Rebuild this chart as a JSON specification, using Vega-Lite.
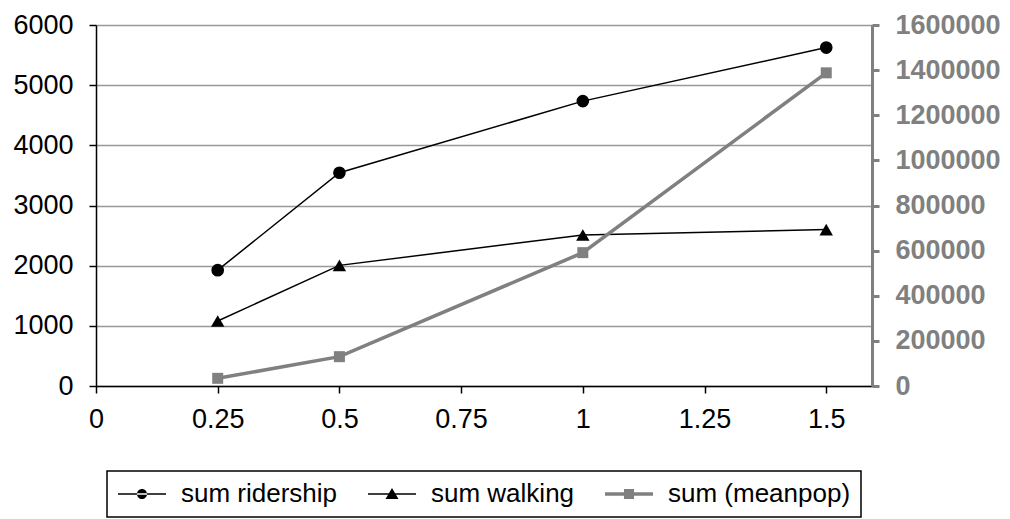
{
  "$schema": "https://vega.github.io/schema/vega-lite/v6.json",
  "width": 776,
  "height": 361,
  "autosize": {"type": "none"},
  "padding": {"left": 96, "top": 25, "right": 138, "bottom": 133},
  "background": "white",
  "config": {
    "font": "Liberation Sans",
    "view": {"stroke": null},
    "axis": {"labelFont": "Liberation Sans", "labelFontSize": 27, "labelColor": "black", "title": null, "tickSize": 7}
  },
  "data": {
    "values": [
      {"x": 0.25, "series": "sum ridership", "value": 1925},
      {"x": 0.5, "series": "sum ridership", "value": 3545},
      {"x": 1, "series": "sum ridership", "value": 4735},
      {"x": 1.5, "series": "sum ridership", "value": 5625},
      {"x": 0.25, "series": "sum walking", "value": 1080},
      {"x": 0.5, "series": "sum walking", "value": 2005},
      {"x": 1, "series": "sum walking", "value": 2510},
      {"x": 1.5, "series": "sum walking", "value": 2600},
      {"x": 0.25, "series": "sum (meanpop)", "value": 34000},
      {"x": 0.5, "series": "sum (meanpop)", "value": 130000},
      {"x": 1, "series": "sum (meanpop)", "value": 591000},
      {"x": 1.5, "series": "sum (meanpop)", "value": 1388000}
    ]
  },
  "layer": [
    {
      "transform": [{"filter": "datum.series != 'sum (meanpop)'"}],
      "encoding": {
        "x": {
          "field": "x", "type": "quantitative",
          "scale": {"domain": [0, 1.594], "nice": false, "zero": false},
          "axis": {
            "values": [0, 0.25, 0.5, 0.75, 1, 1.25, 1.5], "labelExpr": "'' + datum.value",
            "grid": false, "domainColor": "black", "domainWidth": 1.5,
            "tickColor": "black", "tickWidth": 1.5, "labelPadding": 13,
            "labelFlush": false, "labelOverlap": false, "labelBound": false
          }
        },
        "y": {
          "field": "value", "type": "quantitative",
          "scale": {"domain": [0, 6000], "nice": false},
          "axis": {
            "orient": "left", "values": [0, 1000, 2000, 3000, 4000, 5000, 6000],
            "format": "d", "grid": true, "gridColor": "#999999", "gridWidth": 1.5,
            "domainColor": "black", "domainWidth": 1.5, "tickColor": "black", "tickWidth": 1.5,
            "labelPadding": 16, "labelOverlap": false
          }
        }
      },
      "layer": [
        {"mark": {"type": "line", "color": "black", "strokeWidth": 1.5}, "encoding": {"detail": {"field": "series"}}},
        {"transform": [{"filter": "datum.series == 'sum ridership'"}], "mark": {"type": "point", "shape": "circle", "filled": true, "color": "black", "opacity": 1, "size": 160}},
        {"transform": [{"filter": "datum.series == 'sum walking'"}], "mark": {"type": "point", "shape": "triangle-up", "filled": true, "color": "black", "opacity": 1, "size": 180}},
        {
          "transform": [{"filter": "datum.series == 'none'"}],
          "mark": {"type": "point", "filled": true, "opacity": 1, "size": 576},
          "encoding": {
            "color": {
              "field": "series", "type": "nominal",
              "scale": {"domain": ["sum ridership", "sum walking", "sum (meanpop)"], "range": ["black", "black", "#808080"]},
              "legend": {
                "title": null, "orient": "none", "legendX": 11, "legendY": 446,
                "direction": "horizontal", "columns": 3,
                "strokeColor": "black", "padding": 10,
                "labelFont": "Liberation Sans", "labelFontSize": 26, "labelColor": "black",
                "labelOffset": 38, "columnPadding": 29, "symbolSize": 576,
                "symbolStrokeWidth": 0, "symbolOpacity": 1, "labelLimit": 400,
                "encode": {"legend": {"update": {"strokeWidth": {"value": 1.5}}}}
              }
            },
            "shape": {
              "field": "series", "type": "nominal",
              "scale": {
                "domain": ["sum ridership", "sum walking", "sum (meanpop)"],
                "range": [
                  "M-1,-0.0625H3V0.0625H-1Z M0.58,0A0.42,0.42 0 1,0 1.42,0A0.42,0.42 0 1,0 0.58,0Z",
                  "M-1,-0.0625H3V0.0625H-1Z M1,-0.5L1.54,0.42L0.46,0.42Z",
                  "M-1,-0.146H3V0.146H-1Z M0.58,-0.42H1.42V0.42H0.58Z"
                ]
              }
            }
          }
        }
      ]
    },
    {
      "transform": [{"filter": "datum.series == 'sum (meanpop)'"}],
      "encoding": {
        "x": {"field": "x", "type": "quantitative", "scale": {"domain": [0, 1.594], "nice": false, "zero": false}},
        "y": {
          "field": "value", "type": "quantitative",
          "scale": {"domain": [0, 1600000], "nice": false},
          "axis": {
            "orient": "right", "values": [0, 200000, 400000, 600000, 800000, 1000000, 1200000, 1400000, 1600000],
            "format": "d", "grid": false, "domainColor": "#808080", "domainWidth": 3,
            "tickColor": "#808080", "tickWidth": 3, "labelColor": "#808080", "labelFontWeight": "bold",
            "labelPadding": 16, "labelOverlap": false
          }
        }
      },
      "layer": [
        {"mark": {"type": "line", "color": "#808080", "strokeWidth": 3.5}},
        {"mark": {"type": "point", "shape": "square", "filled": true, "color": "#808080", "opacity": 1, "size": 121}}
      ]
    }
  ],
  "resolve": {"scale": {"y": "independent"}}
}
